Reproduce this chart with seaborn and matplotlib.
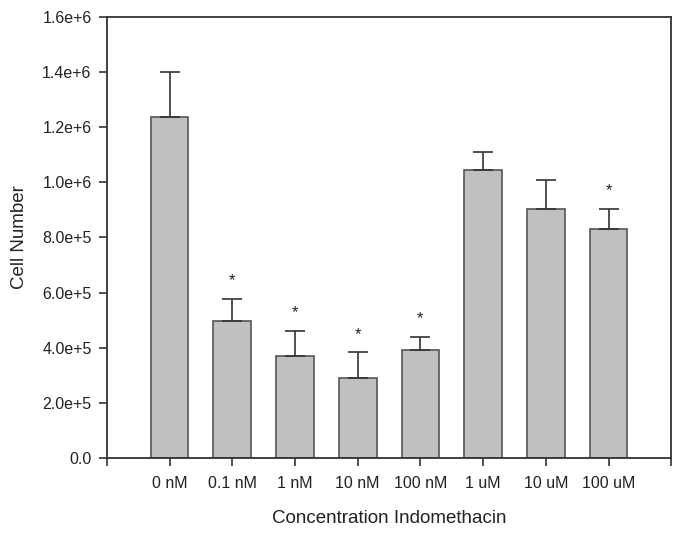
import matplotlib
matplotlib.use("Agg")
import matplotlib.pyplot as plt
import seaborn as sns
import pandas as pd

# data
concentrations = ["0 nM", "0.1 nM", "1 nM", "10 nM", "100 nM", "1 uM", "10 uM", "100 uM"]
cell_number = [1.237e6, 0.497e6, 0.371e6, 0.289e6, 0.393e6, 1.044e6, 0.905e6, 0.832e6]
sem = [0.163e6, 0.081e6, 0.091e6, 0.094e6, 0.047e6, 0.067e6, 0.102e6, 0.073e6]
significant = [False, True, True, True, True, False, False, True]

y_ticks = [0, 2e5, 4e5, 6e5, 8e5, 1.0e6, 1.2e6, 1.4e6, 1.6e6]
y_tick_labels = ["0.0", "2.0e+5", "4.0e+5", "6.0e+5", "8.0e+5",
                 "1.0e+6", "1.2e+6", "1.4e+6", "1.6e+6"]

df = pd.DataFrame({"conc": concentrations, "cells": cell_number, "sem": sem})

sns.set_style("white")
plt.rcParams["font.family"] = ["Liberation Sans", "DejaVu Sans"]

fig = plt.figure(figsize=(6.85, 5.4), dpi=100)
ax = fig.add_axes([0.156, 0.152, 0.824, 0.8165])

sns.barplot(data=df, x="conc", y="cells", color="#c0c0c0", saturation=1,
            width=0.6, edgecolor="#555555", linewidth=1.2, errorbar=None, ax=ax)

xs = range(len(concentrations))
ax.errorbar(xs, df["cells"], yerr=[[0] * len(sem), df["sem"]], fmt="none",
            ecolor="#333333", elinewidth=1.2, capsize=7, capthick=1.2)

for i, sig in enumerate(significant):
    if sig:
        ax.text(i, cell_number[i] + sem[i] + 0.065e6, "*", ha="center",
                va="center", fontsize=12, color="#222222")

ax.set_xlim(-1, 8)
ax.set_ylim(0, 1.6e6)
ax.set_xticks(list(range(-1, 9)))
ax.set_xticklabels([""] + concentrations + [""], fontsize=11.5)
ax.set_yticks(y_ticks)
ax.set_yticklabels(y_tick_labels, fontsize=11.5)
ax.tick_params(axis="both", direction="out", length=6, width=1.2,
               color="#333333", labelcolor="#222222", bottom=True, left=True)
ax.tick_params(axis="x", pad=7)
ax.tick_params(axis="y", pad=5)

for side in ["left", "bottom", "top", "right"]:
    ax.spines[side].set_visible(True)
    ax.spines[side].set_color("#333333")
    ax.spines[side].set_linewidth(1.3)

ax.set_xlabel("Concentration Indomethacin", fontsize=13.5, color="#222222", labelpad=14)
ax.set_ylabel("Cell Number", fontsize=13.5, color="#222222", labelpad=10)

fig.savefig("out.png", dpi=100)
